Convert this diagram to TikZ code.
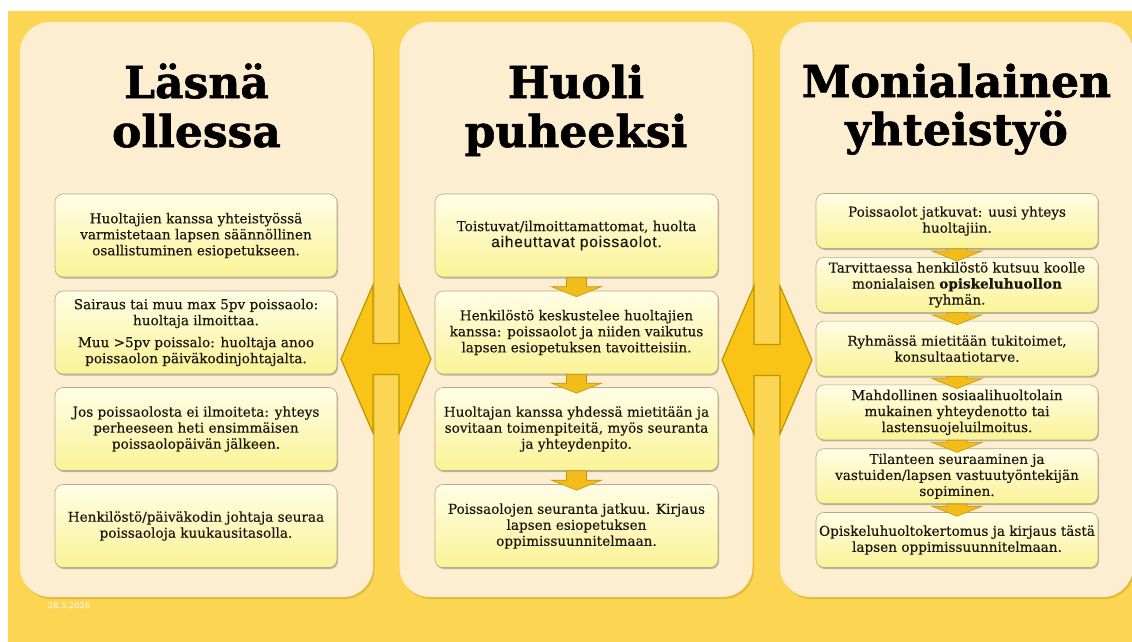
\documentclass[tikz,border=0pt]{standalone}
\usepackage{fontspec}
\setmainfont[FakeBold=0.3,BoldFeatures={FakeBold=0.3}]{DejaVu Serif}
\newfontfamily\titlefont[BoldFeatures={FakeBold=1.3}]{DejaVu Serif}
\newfontfamily\sansf[LetterSpace=5,FakeBold=0.3]{Liberation Sans}
\usetikzlibrary{calc,shadows}
\definecolor{bgyellow}{RGB}{252,213,82}
\definecolor{panelcream}{RGB}{253,238,209}
\definecolor{panelshadow}{RGB}{214,168,40}
\definecolor{boxtop}{RGB}{255,253,230}
\definecolor{boxbot}{RGB}{250,243,150}
\definecolor{boxline}{RGB}{180,172,135}
\definecolor{arrfill}{RGB}{242,188,26}
\definecolor{arrline}{RGB}{196,150,10}
\definecolor{bigfill}{RGB}{250,196,22}
\definecolor{bigline}{RGB}{188,148,0}
\definecolor{datecol}{RGB}{255,242,205}
\definecolor{textcol}{RGB}{25,22,15}
\newcommand\bodyfs{\fontsize{13.6}{16}\selectfont}
\newcommand\titlefs{\titlefont\fontsize{44}{49}\selectfont\bfseries}
\newcommand\flowarr[4]{%
  \path let \p1=(#1.south), \p2=(#2.north) in [smallarrow]
    (\x1-10pt,\y1) -- (\x1+10pt,\y1) -- (\x1+10pt,\y2+#3) -- (\x1+25pt,\y2+#3)
    -- (\x1,\y2-#4) -- (\x1-25pt,\y2+#3) -- (\x1-10pt,\y2+#3) -- cycle;}
\tikzset{
  panel/.style={fill=panelcream, rounded corners=30pt, minimum width=353, minimum height=575,
    drop shadow={shadow xshift=1.5pt, shadow yshift=-2pt, fill=panelshadow, opacity=0.6}},
  titletext/.style={font=\titlefs, anchor=base, inner sep=0pt},
  box/.style={draw=boxline, line width=0.6pt, rounded corners=8pt, top color=boxtop,
    bottom color=boxbot, minimum width=282, align=center, font=\bodyfs, inner sep=2pt,
    text=textcol,
    drop shadow={shadow xshift=1pt, shadow yshift=-1.5pt, fill=black, opacity=0.25}},
  tallbox/.style={box, minimum height=83},
  shortbox/.style={box, minimum height=55},
  smallarrow/.style={fill=arrfill, draw=arrline, line width=0.6pt, line join=miter},
  bigarrow/.style={fill=bigfill, draw=bigline, line width=1.2pt, line join=miter},
  dblarrow/.pic={\path[bigarrow] (-45,0) -- (-13,-74) -- (-13,-15.5) -- (13,-15.5) -- (13,-74)
     -- (45,0) -- (13,74) -- (13,15.5) -- (-13,15.5) -- (-13,74) -- cycle;},
  datelabel/.style={font=\fontsize{8.3}{10}\selectfont, text=datecol, inner sep=0pt}
}
\begin{document}
\begin{tikzpicture}[x=1pt,y=-1pt]
\useasboundingbox (0,0) rectangle (1132,642);
\fill[white] (0,0) rectangle (1132,642);
\fill[bgyellow] (8,11) rectangle (1132,642);
% panels
\node[panel] (p1) at (196.5,309.5) {};
\node[panel] (p2) at (576,309.5) {};
\node[panel] (p3) at (956.5,309.5) {};
% titles
\node[titletext] (t1a) at (196.5,98) {Läsnä};
\node[titletext] (t1b) at (196.5,147) {ollessa};
\node[titletext] (t2a) at (576,98) {Huoli};
\node[titletext] (t2b) at (576,147) {puheeksi};
\node[titletext] (t3a) at (956.5,97) {Monialainen};
\node[titletext] (t3b) at (956.5,145) {yhteistyö};
% left column
\node[tallbox] (l1) at (196,235.5) {Huoltajien kanssa yhteistyössä\\varmistetaan lapsen säännöllinen\\osallistuminen esiopetukseen.};
\node[tallbox] (l2) at (196,332.5) {Sairaus tai muu max 5pv poissaolo:\\huoltaja ilmoittaa.\\[6pt]Muu >5pv poissalo: huoltaja anoo\\poissaolon päiväkodinjohtajalta.};
\node[tallbox] (l3) at (196,429) {Jos poissaolosta ei ilmoiteta: yhteys\\perheeseen heti ensimmäisen\\poissaolopäivän jälkeen.};
\node[tallbox] (l4) at (196,526) {Henkilöstö/päiväkodin johtaja seuraa\\poissaoloja kuukausitasolla.};
% middle column
\node[tallbox, minimum width=283] (m1) at (576.5,235.5) {Toistuvat/ilmoittamattomat, huolta\\{\sansf\fontsize{15.5}{16}\selectfont aiheuttavat poissaolot.}};
\node[tallbox, minimum width=283] (m2) at (576.5,332.5) {Henkilöstö keskustelee huoltajien\\kanssa: poissaolot ja niiden vaikutus\\lapsen esiopetuksen tavoitteisiin.};
\node[tallbox, minimum width=283] (m3) at (576.5,429) {Huoltajan kanssa yhdessä mietitään ja\\sovitaan toimenpiteitä, myös seuranta\\ja yhteydenpito.};
\node[tallbox, minimum width=283] (m4) at (576.5,526) {Poissaolojen seuranta jatkuu. Kirjaus\\lapsen esiopetuksen\\oppimissuunnitelmaan.};
% right column
\node[shortbox] (r1) at (957,221) {Poissaolot jatkuvat: uusi yhteys\\huoltajiin.};
\node[shortbox] (r2) at (957,284.8) {Tarvittaessa henkilöstö kutsuu koolle\\monialaisen \textbf{opiskeluhuollon}\\ryhmän.};
\node[shortbox] (r3) at (957,348.6) {Ryhmässä mietitään tukitoimet,\\konsultaatiotarve.};
\node[shortbox] (r4) at (957,412.4) {Mahdollinen sosiaalihuoltolain\\mukainen yhteydenotto tai\\lastensuojeluilmoitus.};
\node[shortbox] (r5) at (957,476.2) {Tilanteen seuraaminen ja\\vastuiden/lapsen vastuutyöntekijän\\sopiminen.};
\node[shortbox] (r6) at (957,540) {Opiskeluhuoltokertomus ja kirjaus tästä\\lapsen oppimissuunnitelmaan.};
% small arrows
\flowarr{m1}{m2}{4pt}{6pt}
\flowarr{m2}{m3}{4pt}{6pt}
\flowarr{m3}{m4}{4pt}{6pt}
\flowarr{r1}{r2}{6pt}{4pt}
\flowarr{r2}{r3}{6pt}{4pt}
\flowarr{r3}{r4}{6pt}{4pt}
\flowarr{r4}{r5}{6pt}{4pt}
\flowarr{r5}{r6}{6pt}{4pt}
% big double arrows
\coordinate (da) at (386,359);
\coordinate (db) at (767,360);
\pic at (da) {dblarrow};
\pic at (db) {dblarrow};
% date
\node[datelabel] (date) at (69,605) {28.5.2026};
\end{tikzpicture}
\end{document}
